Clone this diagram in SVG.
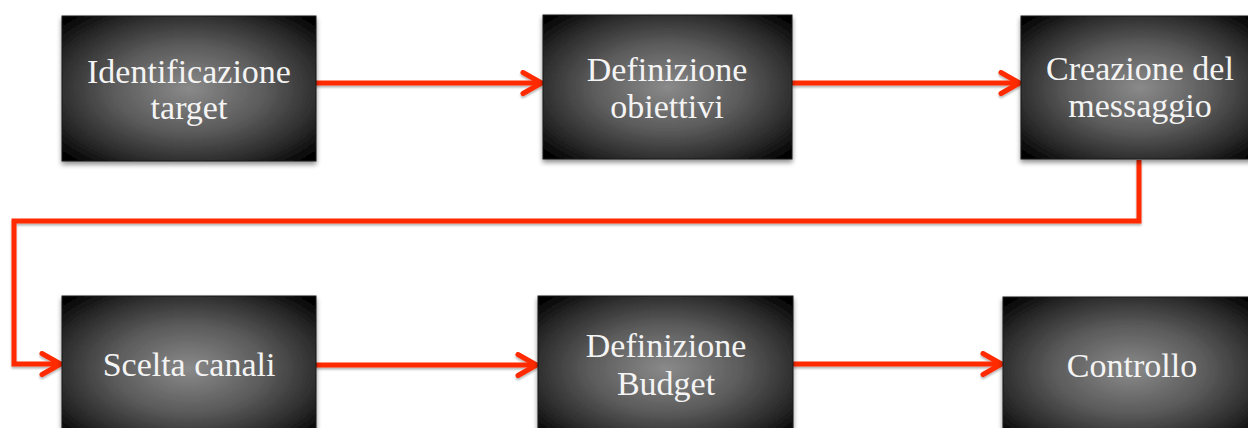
<svg xmlns="http://www.w3.org/2000/svg" width="1248" height="428" viewBox="0 0 1248 428">
  <defs>
    <radialGradient id="boxFill" cx="0.5" cy="0.5" r="0.68">
      <stop offset="0" stop-color="#8a8a8a"/>
      <stop offset="0.45" stop-color="#5a5a5a"/>
      <stop offset="0.8" stop-color="#262626"/>
      <stop offset="1" stop-color="#000000"/>
    </radialGradient>
    <filter id="boxShadow" x="-10%" y="-10%" width="120%" height="130%">
      <feGaussianBlur in="SourceAlpha" stdDeviation="2.5"/>
      <feOffset dx="0" dy="3" result="blur"/>
      <feComponentTransfer><feFuncA type="linear" slope="0.45"/></feComponentTransfer>
      <feMerge><feMergeNode/><feMergeNode in="SourceGraphic"/></feMerge>
    </filter>
    <filter id="lineShadow" x="-5%" y="-20%" width="110%" height="140%">
      <feGaussianBlur in="SourceAlpha" stdDeviation="1.2"/>
      <feOffset dx="0" dy="2"/>
      <feComponentTransfer><feFuncA type="linear" slope="0.3"/></feComponentTransfer>
      <feMerge><feMergeNode/><feMergeNode in="SourceGraphic"/></feMerge>
    </filter>
    <marker id="chevron" viewBox="0 0 24 26" refX="22" refY="13" markerWidth="24" markerHeight="26" markerUnits="userSpaceOnUse" orient="auto">
      <path d="M3 2.5 L21.5 13 L3 23.5" fill="none" stroke="#ff2a00" stroke-width="5" stroke-linecap="round" stroke-linejoin="round"/>
    </marker>
  </defs>
  <style>
    .box { fill: url(#boxFill); stroke: #1a1a1a; stroke-width: 1; filter: url(#boxShadow); }
    .label { font-family: "Liberation Serif", "DejaVu Serif", serif; font-size: 34px; fill: #f4f4f4; text-anchor: middle; }
    .link { fill: none; stroke: #ff2a00; stroke-width: 5; stroke-linejoin: miter; marker-end: url(#chevron); }
  </style>
  <rect width="1248" height="428" fill="#ffffff"/>

  <g id="connectors" filter="url(#lineShadow)">
    <path class="link" d="M316 83 H542"/>
    <path class="link" d="M792 83 H1020"/>
    <path class="link" d="M1139 160 V221 H14 V364 H61"/>
    <path class="link" d="M316 365 H537"/>
    <path class="link" d="M793 364 H1002"/>
  </g>

  <g id="node-identificazione-target">
    <rect class="box" x="62" y="16" width="254" height="145"/>
    <text class="label" x="189" y="83">Identificazione</text>
    <text class="label" x="189" y="119">target</text>
  </g>
  <g id="node-definizione-obiettivi">
    <rect class="box" x="543" y="15" width="249" height="144"/>
    <text class="label" x="667" y="81">Definizione</text>
    <text class="label" x="667" y="118">obiettivi</text>
  </g>
  <g id="node-creazione-messaggio">
    <rect class="box" x="1021" y="16" width="238" height="143"/>
    <text class="label" x="1140" y="80">Creazione del</text>
    <text class="label" x="1140" y="117">messaggio</text>
  </g>
  <g id="node-scelta-canali">
    <rect class="box" x="62" y="296" width="254" height="145"/>
    <text class="label" x="189" y="376">Scelta canali</text>
  </g>
  <g id="node-definizione-budget">
    <rect class="box" x="538" y="296" width="255" height="145"/>
    <text class="label" x="666" y="357">Definizione</text>
    <text class="label" x="666" y="395">Budget</text>
  </g>
  <g id="node-controllo">
    <rect class="box" x="1003" y="297" width="254" height="145"/>
    <text class="label" x="1132" y="377">Controllo</text>
  </g>
</svg>
